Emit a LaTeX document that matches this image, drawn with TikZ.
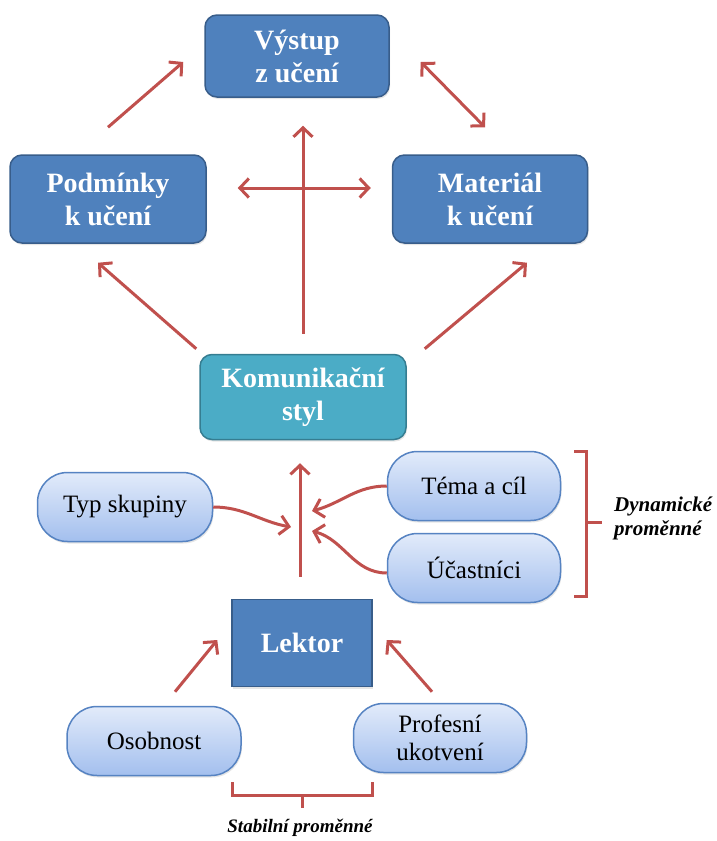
\documentclass[tikz,border=0pt]{standalone}
\usepackage{fontspec}
\setmainfont{Liberation Serif}
\usepackage{tikz}
\usetikzlibrary{arrows.meta, shadows}
\definecolor{boxblue}{HTML}{4F81BD}
\definecolor{boxblueline}{HTML}{385D8A}
\definecolor{boxteal}{HTML}{4BACC6}
\definecolor{boxtealline}{HTML}{357D91}
\definecolor{pilltop}{HTML}{E2EBFA}
\definecolor{pillbottom}{HTML}{A3BFEE}
\definecolor{pillline}{HTML}{5683C2}
\definecolor{arrowred}{HTML}{C0504D}

\begin{document}
\begin{tikzpicture}[
    x=1pt, y=-1pt,
    every node/.style={align=center, inner sep=0pt},
    bluebox/.style={draw=boxblueline, line width=1.5pt, rounded corners=12pt, fill=boxblue, text=white,
      font=\bfseries\fontsize{28}{33}\selectfont, drop shadow={shadow xshift=1pt, shadow yshift=-2pt, opacity=0.2}},
    tealbox/.style={bluebox, draw=boxtealline, fill=boxteal},
    pill/.style={draw=pillline, line width=1.5pt, rounded corners=30pt, top color=pilltop, bottom color=pillbottom,
      minimum width=173pt, minimum height=69pt, font=\fontsize{25}{28}\selectfont,
      drop shadow={shadow xshift=1pt, shadow yshift=-2pt, opacity=0.2}},
    arrow/.style={-{Straight Barb[length=9pt, width=19pt]}, line width=3pt, color=arrowred},
    twoway/.style={arrow, {Straight Barb[length=9pt, width=19pt]}-{Straight Barb[length=9pt, width=19pt]}},
    brace/.style={line width=3pt, color=arrowred},
    label/.style={font=\bfseries\itshape\fontsize{19}{24}\selectfont}
]
\useasboundingbox (0,0) rectangle (717,841);

% boxes
\node[bluebox, minimum width=184pt, minimum height=82pt] (vys) at (297,56) {Výstup\\z učení};
\node[bluebox, minimum width=196pt, minimum height=88pt] (pod) at (108,199) {Podmínky\\k učení};
\node[bluebox, minimum width=195pt, minimum height=88pt] (mat) at (490,199) {Materiál\\k učení};
\node[tealbox, minimum width=206pt, minimum height=85pt] (kom) at (303,397) {Komunikační\\styl};
\node[bluebox, rounded corners=0pt, minimum width=140pt, minimum height=87pt] (lek) at (302,643) {Lektor};

% pills
\node[pill, minimum width=175pt] (typ) at (125,507) {Typ skupiny};
\node[pill] (tema) at (474,486) {Téma a cíl};
\node[pill] (ucast) at (474,568) {Účastníci};
\node[pill, minimum width=174pt] (oso) at (154,741) {Osobnost};
\node[pill] (prof) at (440,738) {Profesní\\ukotvení};

% merge points
\coordinate (mL) at (291,527);
\coordinate (mT) at (312,511);
\coordinate (mU) at (312,531);

% upper arrows
\draw[arrow] ([shift={(0,-27)}]pod.north) -- ([shift={(-21,6)}]vys.west);
\draw[twoway] ([shift={(31,6)}]vys.east) -- ([shift={(-5,-27)}]mat.north);
\draw[twoway] ([shift={(31,-11)}]pod.east) -- ([shift={(-21,-11)}]mat.west);
\draw[arrow] ([shift={(0,-20)}]kom.north) -- ([shift={(6,28)}]vys.south);
\draw[arrow] ([shift={(-3,-5)}]kom.north west) -- ([shift={(-10,19)}]pod.south);
\draw[arrow] ([shift={(18,-5)}]kom.north east) -- ([shift={(37,19)}]mat.south);

% lower arrows
\draw[arrow] ([shift={(-2,-22)}]lek.north) -- ([shift={(-3,23)}]kom.south);
\draw[arrow] (typ.east) to[out=0, in=170] (mL);
\draw[arrow] (tema.west) to[out=180, in=15] (mT);
\draw[arrow] ([shift={(0,5)}]ucast.west) to[out=180, in=-15] (mU);
\draw[arrow] ([shift={(21,-14)}]oso.north) -- ([shift={(-14,-3)}]lek.west);
\draw[arrow] ([shift={(-8,-11)}]prof.north) -- ([shift={(14,-3)}]lek.east);

% brackets
\draw[brace] (574,451) -- (586,451) -- (586,596) -- (574,596);
\draw[brace] (586,522) -- (602,522);
\draw[brace] (232,782) -- (232,795) -- (372,795) -- (372,782);
\draw[brace] (302,795) -- (302,808);

\node[label, font=\bfseries\itshape\fontsize{21}{24}\selectfont, anchor=west, align=left] (dyn) at (614,518) {Dynamické\\proměnné};
\node[label] (stab) at (300,828) {Stabilní proměnné};
\end{tikzpicture}
\end{document}
